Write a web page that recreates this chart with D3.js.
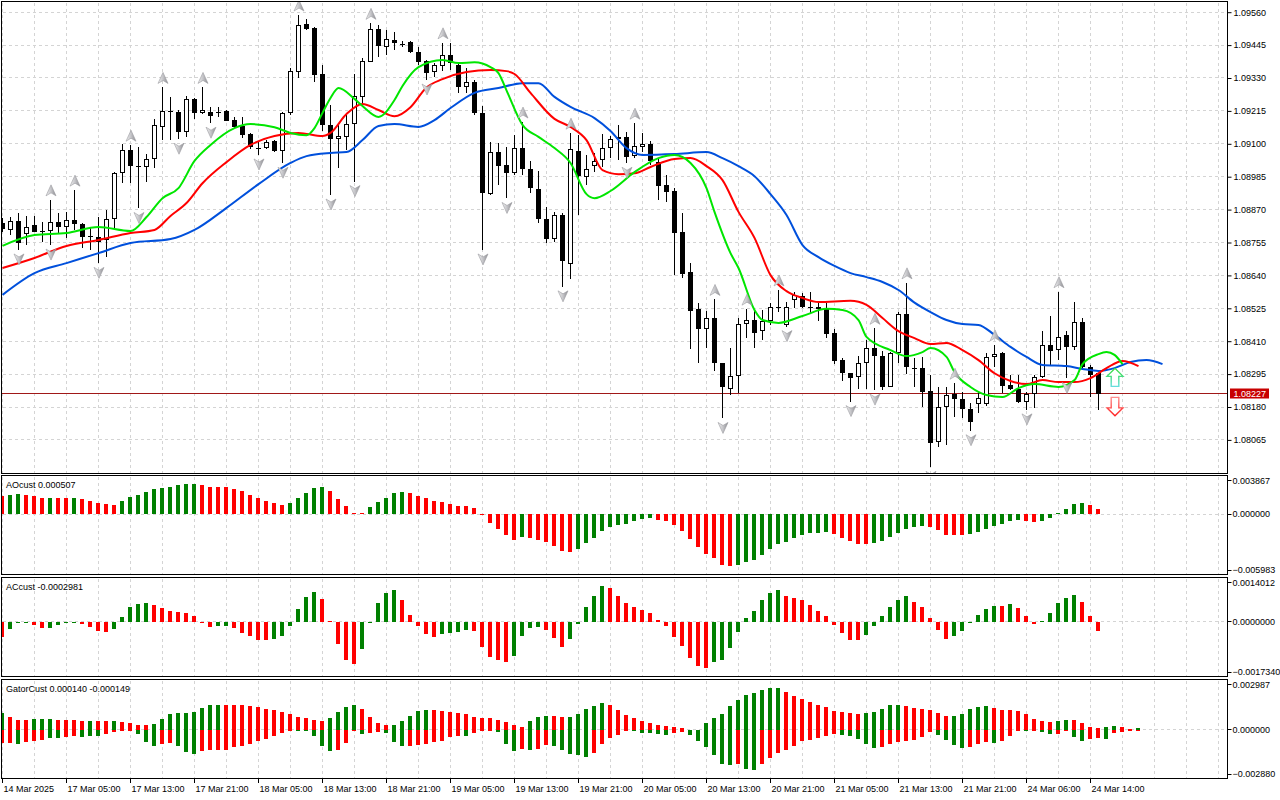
<!DOCTYPE html>
<html>
<head>
<meta charset="utf-8">
<title>EURUSD H1</title>
<script src="https://cdn.jsdelivr.net/npm/d3@7/dist/d3.min.js"></script>
<style>
  html, body { margin:0; padding:0; background:#ffffff; }
  svg { display:block; font-family:"Liberation Sans", Arial, sans-serif; font-size:9px; }
</style>
</head>
<body>
<svg id="chart" width="1280" height="800"></svg>
<script>
// ---------------- DATA ----------------
const timeLabels = ["14 Mar 2025","17 Mar 05:00","17 Mar 13:00","17 Mar 21:00","18 Mar 05:00","18 Mar 13:00","18 Mar 21:00","19 Mar 05:00","19 Mar 13:00","19 Mar 21:00","20 Mar 05:00","20 Mar 13:00","20 Mar 21:00","21 Mar 05:00","21 Mar 13:00","21 Mar 21:00","24 Mar 06:00","24 Mar 14:00"];
const timeLabelIdx = [0,8,16,24,32,40,48,56,64,72,80,88,96,104,112,120,128,136];
const priceTicks = [1.09560,1.09445,1.09330,1.09215,1.09100,1.08985,1.08870,1.08755,1.08640,1.08525,1.08410,1.08295,1.08180,1.08065];
const lastPrice = 1.08227;

const opens = [1.08822,1.08799,1.08830,1.08784,1.08815,1.08795,1.08794,1.08827,1.08810,1.08834,
1.08819,1.08777,1.08775,1.08764,1.08836,1.08997,1.09077,1.09022,1.09018,1.09046,
1.09158,1.09215,1.09212,1.09140,1.09257,1.09207,1.09210,1.09211,1.09215,1.09183,
1.09162,1.09133,1.09086,1.09084,1.09110,1.09076,1.09207,1.09350,1.09519,1.09505,
1.09344,1.09166,1.09116,1.09125,1.09168,1.09265,1.09387,1.09500,1.09437,1.09463,
1.09448,1.09455,1.09422,1.09389,1.09350,1.09373,1.09410,1.09375,1.09300,1.09316,
1.09207,1.08924,1.09070,1.09026,1.08997,1.09084,1.09011,1.08941,1.08836,1.08766,
1.08850,1.08679,1.09075,1.08985,1.09023,1.09043,1.09084,1.09116,1.09125,1.09057,
1.09090,1.09099,1.09037,1.08956,1.08936,1.08791,1.08651,1.08522,1.08454,1.08490,
1.08333,1.08242,1.08289,1.08470,1.08484,1.08445,1.08482,1.08528,1.08465,1.08553,
1.08569,1.08531,1.08528,1.08522,1.08438,1.08344,1.08298,1.08284,1.08335,1.08385,
1.08358,1.08251,1.08368,1.08505,1.08317,1.08315,1.08236,1.08059,1.08179,1.08225,
1.08207,1.08172,1.08190,1.08190,1.08356,1.08368,1.08257,1.08244,1.08199,1.08224,
1.08286,1.08396,1.08379,1.08432,1.08389,1.08477,1.08321,1.08298];
const highs = [1.08841,1.08845,1.08857,1.08848,1.08849,1.08828,1.08904,1.08857,1.08863,1.08938,
1.08822,1.08810,1.08843,1.08869,1.09002,1.09099,1.09095,1.09090,1.09064,1.09188,
1.09297,1.09265,1.09218,1.09267,1.09259,1.09297,1.09228,1.09228,1.09218,1.09195,
1.09195,1.09137,1.09107,1.09113,1.09113,1.09212,1.09364,1.09550,1.09535,1.09509,
1.09375,1.09236,1.09172,1.09201,1.09344,1.09401,1.09521,1.09515,1.09498,1.09491,
1.09460,1.09460,1.09437,1.09393,1.09381,1.09453,1.09451,1.09387,1.09364,1.09323,
1.09232,1.09105,1.09102,1.09090,1.09131,1.09176,1.09041,1.09006,1.08878,1.08863,
1.08857,1.09137,1.09131,1.09061,1.09067,1.09134,1.09127,1.09166,1.09142,1.09172,
1.09139,1.09110,1.09049,1.08991,1.08944,1.08857,1.08682,1.08542,1.08517,1.08556,
1.08335,1.08385,1.08490,1.08522,1.08519,1.08519,1.08542,1.08589,1.08548,1.08583,
1.08579,1.08583,1.08545,1.08542,1.08452,1.08350,1.08298,1.08358,1.08414,1.08455,
1.08377,1.08373,1.08512,1.08614,1.08350,1.08356,1.08292,1.08249,1.08251,1.08263,
1.08233,1.08195,1.08236,1.08370,1.08397,1.08373,1.08292,1.08292,1.08233,1.08292,
1.08447,1.08498,1.08583,1.08447,1.08548,1.08490,1.08327,1.08298];
const lows = [1.08792,1.08781,1.08729,1.08746,1.08791,1.08756,1.08746,1.08787,1.08770,1.08799,
1.08735,1.08729,1.08682,1.08705,1.08799,1.08964,1.08962,1.08874,1.08968,1.09014,
1.09113,1.09113,1.09116,1.09125,1.09187,1.09205,1.09172,1.09193,1.09179,1.09151,
1.09119,1.09082,1.09061,1.09082,1.09072,1.09032,1.09201,1.09329,1.09498,1.09317,
1.09145,1.08921,1.09014,1.09078,1.08968,1.09242,1.09385,1.09404,1.09410,1.09428,
1.09439,1.09416,1.09375,1.09323,1.09335,1.09356,1.09358,1.09279,1.09279,1.09201,
1.08729,1.08921,1.08956,1.08909,1.08991,1.08991,1.08927,1.08822,1.08752,1.08758,
1.08600,1.08626,1.08851,1.08956,1.09002,1.09020,1.09049,1.09043,1.09032,1.09049,
1.09072,1.09026,1.08904,1.08898,1.08641,1.08630,1.08382,1.08333,1.08385,1.08307,
1.08140,1.08222,1.08228,1.08420,1.08385,1.08414,1.08467,1.08513,1.08461,1.08525,
1.08525,1.08507,1.08482,1.08420,1.08330,1.08272,1.08199,1.08242,1.08242,1.08239,
1.08239,1.08249,1.08333,1.08295,1.08249,1.08181,1.07969,1.08041,1.08047,1.08146,
1.08140,1.08097,1.08158,1.08185,1.08321,1.08228,1.08239,1.08193,1.08170,1.08175,
1.08280,1.08327,1.08344,1.08280,1.08379,1.08309,1.08214,1.08170];
const closes = [1.08801,1.08830,1.08752,1.08810,1.08793,1.08796,1.08826,1.08810,1.08834,1.08819,
1.08773,1.08778,1.08758,1.08836,1.08997,1.09077,1.09022,1.09018,1.09046,1.09165,
1.09215,1.09212,1.09140,1.09256,1.09207,1.09218,1.09198,1.09210,1.09181,1.09160,
1.09131,1.09090,1.09085,1.09107,1.09076,1.09207,1.09354,1.09515,1.09502,1.09341,
1.09166,1.09116,1.09127,1.09168,1.09267,1.09389,1.09500,1.09443,1.09465,1.09451,
1.09447,1.09420,1.09387,1.09346,1.09375,1.09410,1.09381,1.09300,1.09316,1.09207,
1.08927,1.09070,1.09023,1.08997,1.09084,1.09011,1.08944,1.08836,1.08766,1.08850,
1.08691,1.09081,1.08988,1.09011,1.09039,1.09084,1.09116,1.09125,1.09055,1.09092,
1.09098,1.09040,1.08953,1.08933,1.08789,1.08645,1.08517,1.08454,1.08490,1.08335,
1.08249,1.08289,1.08469,1.08483,1.08440,1.08480,1.08528,1.08529,1.08528,1.08572,
1.08531,1.08530,1.08522,1.08436,1.08342,1.08298,1.08280,1.08335,1.08385,1.08358,
1.08251,1.08368,1.08505,1.08319,1.08316,1.08233,1.08055,1.08179,1.08222,1.08207,
1.08172,1.08129,1.08210,1.08356,1.08365,1.08253,1.08244,1.08199,1.08224,1.08286,
1.08396,1.08377,1.08426,1.08389,1.08477,1.08321,1.08292,1.08227];

// Alligator lines (bar index incl. forward shift, value)
const jawIdx = [0,4,8,12,16,21,24,28,32,36,38,41,43,45,47,49,52,54,56,59,62,65,67,69,71,74,76,78,80,84,88,90,92,94,96,98,100,102,104,106,108,110,112,114,116,118,120,122,124,126,128,130,133,135,137,139,141,143,145];
const jawVal = [1.08572,1.08648,1.08683,1.08718,1.08753,1.08767,1.08799,1.08876,1.08959,1.09033,1.09057,1.09068,1.09071,1.09113,1.09162,1.09169,1.09159,1.09183,1.09225,1.09278,1.09295,1.09312,1.09312,1.09264,1.09229,1.09190,1.09145,1.09085,1.09061,1.09064,1.09071,1.09050,1.09022,1.08987,1.08924,1.08851,1.08746,1.08704,1.08673,1.08648,1.08634,1.08617,1.08589,1.08545,1.08512,1.08484,1.08470,1.08467,1.08432,1.08390,1.08355,1.08327,1.08323,1.08313,1.08306,1.08316,1.08337,1.08344,1.08330];
const teethIdx = [0,4,8,12,16,19,21,23,25,28,31,34,37,40,41,43,45,47,49,51,53,55,58,61,63,64,66,69,71,73,75,77,79,81,84,86,88,90,92,94,96,98,100,102,106,108,110,112,114,116,118,120,122,124,126,128,130,132,134,136,138,140,142];
const teethVal = [1.08666,1.08701,1.08743,1.08764,1.08788,1.08799,1.08848,1.08893,1.08962,1.09036,1.09096,1.09127,1.09138,1.09127,1.09138,1.09204,1.09239,1.09218,1.09196,1.09228,1.09297,1.09326,1.09351,1.09358,1.09354,1.09344,1.09278,1.09187,1.09159,1.09113,1.09008,1.08994,1.08997,1.09019,1.09047,1.09050,1.09022,1.08973,1.08862,1.08771,1.08641,1.08585,1.08561,1.08547,1.08551,1.08537,1.08491,1.08445,1.08421,1.08400,1.08404,1.08379,1.08344,1.08298,1.08271,1.08260,1.08274,1.08267,1.08267,1.08281,1.08316,1.08341,1.08323];
const lipsIdx = [0,4,8,12,16,18,20,22,24,26,29,31,34,36,38,39,40,41,42,44,45,47,49,50,52,55,57,59,61,62,63,65,67,69,71,73,74,76,79,82,84,86,88,89,91,92,94,95,97,100,103,105,107,108,111,113,115,116,118,119,121,123,125,127,129,132,134,135,137,138,139,140];
const lipsVal = [1.08743,1.08781,1.08788,1.08809,1.08795,1.08844,1.08910,1.08945,1.09040,1.09096,1.09155,1.09169,1.09158,1.09138,1.09130,1.09155,1.09208,1.09260,1.09295,1.09257,1.09232,1.09194,1.09253,1.09302,1.09368,1.09393,1.09382,1.09385,1.09368,1.09347,1.09287,1.09166,1.09124,1.09085,1.09033,1.08924,1.08910,1.08935,1.09001,1.09050,1.09061,1.09033,1.08945,1.08862,1.08718,1.08666,1.08519,1.08484,1.08474,1.08498,1.08523,1.08519,1.08484,1.08425,1.08379,1.08358,1.08372,1.08386,1.08355,1.08302,1.08250,1.08222,1.08215,1.08246,1.08260,1.08250,1.08274,1.08330,1.08365,1.08372,1.08362,1.08330];

// Fractals (bar indices)
const fractalUp = [6,9,16,20,25,37,46,55,65,71,79,89,93,97,109,113,119,124,132];
const fractalDown = [2,6,12,17,22,26,32,35,41,44,53,60,63,70,78,90,98,106,109,116,121,128,133];

// Signal arrows
const signalIdx = 139;
const signalBuyPrice = 1.08315;
const signalSellPrice = 1.08149;

// Awesome Oscillator
const aoValues = [0.00183,0.00196,0.00203,0.00193,0.00186,0.00166,0.00167,0.00165,0.00162,0.00163,
0.00155,0.00135,0.00115,0.00101,0.00091,0.00135,0.00176,0.00196,0.00223,0.00254,
0.00264,0.00277,0.00294,0.00304,0.00305,0.00294,0.00274,0.00273,0.00272,0.00254,
0.00233,0.00196,0.00162,0.00135,0.00112,0.00091,0.00112,0.00162,0.00213,0.00264,
0.00277,0.00237,0.00152,0.00081,0.00010,0.00009,0.00071,0.00122,0.00162,0.00213,
0.00223,0.00213,0.00183,0.00162,0.00132,0.00122,0.00101,0.00081,0.00080,0.00061,
-0.00014,-0.00088,-0.00152,-0.00210,-0.00260,-0.00230,-0.00240,-0.00260,-0.00281,-0.00321,
-0.00372,-0.00382,-0.00352,-0.00291,-0.00240,-0.00169,-0.00128,-0.00108,-0.00098,-0.00068,
-0.00047,-0.00037,-0.00057,-0.00068,-0.00108,-0.00169,-0.00250,-0.00331,-0.00402,-0.00443,
-0.00514,-0.00524,-0.00513,-0.00483,-0.00463,-0.00412,-0.00352,-0.00301,-0.00281,-0.00240,
-0.00210,-0.00189,-0.00188,-0.00187,-0.00200,-0.00240,-0.00270,-0.00301,-0.00302,-0.00291,
-0.00270,-0.00230,-0.00190,-0.00149,-0.00128,-0.00118,-0.00128,-0.00159,-0.00210,-0.00211,
-0.00212,-0.00200,-0.00179,-0.00149,-0.00118,-0.00098,-0.00068,-0.00057,-0.00068,-0.00078,
-0.00068,-0.00037,0.00007,0.00051,0.00101,0.00112,0.00091,0.00051];
const aoColors = ("rggrrrgrrg"+"rrrrrggggg"+"gggggrrrrr"+"rrrrrrgggg"+"grrrrrgggg"+"grrrrrrrrr"+"rrrrrgrrrr"+"rrgggggggg"+"ggrrrrrrrr"+"rrgggggggg"+"ggggrrrrrg"+"ggggggrrrr"+"rgggggggrr"+"ggggggrr").split("");

// Accelerator Oscillator
const acValues = [-0.00048,-0.00022,-0.00003,-0.00003,-0.00010,-0.00019,-0.00019,-0.00010,-0.00003,-0.00002,
-0.00006,-0.00016,-0.00029,-0.00032,-0.00022,0.00016,0.00048,0.00058,0.00061,0.00054,
0.00045,0.00035,0.00032,0.00029,0.00019,-0.00001,-0.00016,-0.00013,-0.00012,-0.00019,
-0.00035,-0.00045,-0.00058,-0.00059,-0.00054,-0.00045,-0.00013,0.00042,0.00080,0.00096,
0.00074,0.00003,-0.00070,-0.00122,-0.00134,-0.00086,-0.00002,0.00061,0.00093,0.00102,
0.00070,0.00022,-0.00013,-0.00038,-0.00048,-0.00038,-0.00035,-0.00034,-0.00026,-0.00029,
-0.00080,-0.00112,-0.00122,-0.00128,-0.00109,-0.00045,-0.00019,-0.00016,-0.00026,-0.00051,
-0.00080,-0.00054,-0.00006,0.00048,0.00083,0.00115,0.00109,0.00083,0.00061,0.00048,
0.00038,0.00029,0.00006,-0.00013,-0.00048,-0.00077,-0.00115,-0.00141,-0.00147,-0.00128,
-0.00122,-0.00083,-0.00032,0.00013,0.00035,0.00070,0.00093,0.00102,0.00083,0.00077,
0.00070,0.00054,0.00035,0.00019,-0.00010,-0.00035,-0.00058,-0.00059,-0.00042,-0.00013,
0.00019,0.00048,0.00070,0.00083,0.00064,0.00048,0.00013,-0.00026,-0.00054,-0.00045,
-0.00029,-0.00002,0.00022,0.00042,0.00051,0.00050,0.00058,0.00045,0.00019,-0.00006,
0.00003,0.00029,0.00061,0.00077,0.00086,0.00064,0.00019,-0.0002981];
const acColors = ("rgggrrgggg"+"rrrrgggggr"+"rrrrrrrggr"+"rrrrgggggg"+"rrrrrggggg"+"rrrrrggggr"+"rrrrggggrr"+"rgggggrrrr"+"rrrrrrrrrg"+"ggggggggrr"+"rrrrrrrrgg"+"ggggrrrrrg"+"gggggrgrrr"+"gggggrrr").split("");

// Gator Oscillator
const gatorUp = [0.00104,0.00076,0.00060,0.00060,0.00066,0.00066,0.00066,0.00060,0.00060,0.00060,
0.00054,0.00054,0.00054,0.00054,0.00054,0.00048,0.00042,0.00030,0.00030,0.00036,
0.00066,0.00096,0.00102,0.00102,0.00108,0.00132,0.00150,0.00150,0.00150,0.00150,
0.00150,0.00144,0.00138,0.00126,0.00120,0.00108,0.00096,0.00078,0.00072,0.00060,
0.00054,0.00072,0.00108,0.00138,0.00150,0.00126,0.00078,0.00042,0.00030,0.00030,
0.00054,0.00084,0.00114,0.00120,0.00120,0.00114,0.00108,0.00102,0.00096,0.00078,
0.00072,0.00072,0.00060,0.00048,0.00030,0.00018,0.00054,0.00078,0.00084,0.00084,
0.00078,0.00078,0.00096,0.00126,0.00144,0.00162,0.00150,0.00120,0.00090,0.00072,
0.00054,0.00042,0.00030,0.00024,0.00018,0.00012,0.00002,0.00001,0.00042,0.00072,
0.00096,0.00144,0.00180,0.00210,0.00222,0.00240,0.00252,0.00252,0.00228,0.00204,
0.00186,0.00168,0.00150,0.00138,0.00114,0.00108,0.00102,0.00096,0.00102,0.00108,
0.00126,0.00150,0.00150,0.00144,0.00132,0.00126,0.00120,0.00102,0.00084,0.00084,
0.00096,0.00126,0.00138,0.00144,0.00132,0.00120,0.00120,0.00114,0.00096,0.00066,
0.00054,0.00048,0.00054,0.00060,0.00060,0.00042,0.00018,0.00012,0.00018,0.00024,
0.00018,0.00006,0.00014];
const gatorDown = [-0.00076,-0.00076,-0.00082,-0.00070,-0.00064,-0.00058,-0.00046,-0.00046,-0.00040,-0.00034,
-0.00040,-0.00034,-0.00034,-0.00022,-0.00010,-0.00004,-0.00004,-0.00022,-0.00070,-0.00094,
-0.00082,-0.00076,-0.00094,-0.00130,-0.00142,-0.00124,-0.00118,-0.00118,-0.00118,-0.00100,
-0.00094,-0.00082,-0.00064,-0.00052,-0.00034,-0.00016,-0.00004,-0.00004,-0.00004,-0.00034,
-0.00094,-0.00124,-0.00118,-0.00076,-0.00004,-0.00022,-0.00016,-0.00010,-0.00016,-0.00070,
-0.00094,-0.00094,-0.00088,-0.00082,-0.00070,-0.00064,-0.00040,-0.00034,-0.00034,-0.00016,
-0.00004,-0.00004,-0.00010,-0.00082,-0.00124,-0.00112,-0.00118,-0.00112,-0.00088,-0.00094,
-0.00118,-0.00142,-0.00148,-0.00160,-0.00136,-0.00082,-0.00046,-0.00028,-0.00004,-0.00002,
-0.00016,-0.00016,-0.00022,-0.00028,-0.00016,-0.00010,-0.00028,-0.00064,-0.00100,-0.00148,
-0.00202,-0.00208,-0.00202,-0.00232,-0.00238,-0.00202,-0.00166,-0.00136,-0.00118,-0.00094,
-0.00064,-0.00058,-0.00046,-0.00034,-0.00022,-0.00028,-0.00034,-0.00052,-0.00082,-0.00106,
-0.00100,-0.00082,-0.00070,-0.00064,-0.00058,-0.00040,-0.00010,-0.00028,-0.00058,-0.00088,
-0.00106,-0.00100,-0.00082,-0.00070,-0.00076,-0.00064,-0.00034,-0.00004,-0.00004,-0.00004,
-0.00010,-0.00022,-0.00022,-0.00004,-0.00040,-0.00064,-0.00052,-0.00046,-0.00052,-0.00016,
-0.00010,-0.00003,-0.00003];
const gatorUpColors = ("grrrgggrrr"+"rgrrgrrrrg"+"ggggggggrr"+"rrrrrrrrrr"+"rggggrrrrg"+"ggggrrrrrr"+"rrrrrrgggr"+"rgggggrrrr"+"rrrrrrrrgg"+"ggggggggrr"+"rrrrrrrrgg"+"gggrrrrrrg"+"ggggrrrrrr"+"rrggrrrrgg"+"rrg").split("");
const gatorDownColors = ("rrgrrrggrr"+"gggrrrrggg"+"rrgggrrrrr"+"rrrrrrrggg"+"ggrrrgrrgg"+"grrrrrrrgr"+"rrgggrgrrg"+"ggggrrrrrg"+"ggggrrgggg"+"ggrggrrrrr"+"rrrrrggggg"+"rrrrrrrggg"+"grrrgrrrgr"+"ggrrggrrgr"+"rrr").split("");

const aoLabel = "AOcust 0.000507";
const acLabel = "ACcust -0.0002981";
const gatorLabel = "GatorCust 0.000140 -0.000149";
const aoAxis = [0.003867, 0, -0.005983];
const acAxis = [0.0014012, 0, -0.0017340];
const gatorAxis = [0.002987, 0, -0.002880];

// ---------------- DRAWING ----------------
const svg = d3.select("#chart");
const plotL = 1.5, plotR = 1227.5;
const COL = {green:"#008000", red:"#ff0000", grid:"#d4d4d4", jaw:"#0050dc", teeth:"#ff0000", lips:"#00e600"};
const panels = {
  main:  {top:1.5,   bottom:473.5},
  ao:    {top:475.5, bottom:574.5},
  ac:    {top:577.5, bottom:676.5},
  gator: {top:679.5, bottom:778.5}
};

const x = d3.scaleLinear().domain([0, 1]).range([2.5, 10.5]);
const y = d3.scaleLinear().domain([1.08180, 1.09560]).range([407, 12.2]);
const aoY = d3.scaleLinear().domain([-0.005983, 0.003867]).range([573, 476]);
const acY = d3.scaleLinear().domain([-0.0017340, 0.0014012]).range([676, 578]);
const gY  = d3.scaleLinear().domain([-0.002880, 0.002987]).range([778, 680]);

svg.append("rect").attr("width",1280).attr("height",800).attr("fill","#fff");

const defs = svg.append("defs");
Object.entries(panels).forEach(([k,p]) => {
  defs.append("clipPath").attr("id","clip-"+k).append("rect")
    .attr("x", plotL+0.5).attr("y", p.top+0.5).attr("width", plotR-plotL-1).attr("height", p.bottom-p.top-1);
});
const gL = defs.append("linearGradient").attr("id","fracGrad").attr("x1","0").attr("x2","1").attr("y1","0").attr("y2","0");
gL.append("stop").attr("offset","0").attr("stop-color","#f2f2f2");
gL.append("stop").attr("offset","0.5").attr("stop-color","#c4c4c8");
gL.append("stop").attr("offset","1").attr("stop-color","#8e8e92");
const gB = defs.append("linearGradient").attr("id","buyStroke").attr("x1","0").attr("x2","0").attr("y1","0").attr("y2","1");
gB.append("stop").attr("offset","0").attr("stop-color","#33dd33");
gB.append("stop").attr("offset","1").attr("stop-color","#66dddd");
const gS = defs.append("linearGradient").attr("id","sellStroke").attr("x1","0").attr("x2","0").attr("y1","0").attr("y2","1");
gS.append("stop").attr("offset","0").attr("stop-color","#ff9090");
gS.append("stop").attr("offset","1").attr("stop-color","#ff2020");

const crisp = v => Math.round(v - 0.5) + 0.5;
const gridIdx = d3.range(0, 160, 4).filter(i => x(i) < plotR - 1);

// Grids
Object.entries(panels).forEach(([k,p]) => {
  const g = svg.append("g").attr("stroke", COL.grid).attr("stroke-dasharray","3,3").attr("shape-rendering","crispEdges");
  g.selectAll("line").data(gridIdx).join("line")
    .attr("x1", d => x(d)).attr("x2", d => x(d))
    .attr("y1", p.top + 1).attr("y2", p.bottom - 1);
});
svg.append("g").attr("stroke", COL.grid).attr("stroke-dasharray","3,3").attr("shape-rendering","crispEdges")
  .selectAll("line").data(priceTicks).join("line")
  .attr("x1", plotL+1).attr("x2", plotR-1)
  .attr("y1", d => crisp(y(d))).attr("y2", d => crisp(y(d)));
[aoY, acY, gY].forEach(sc => {
  svg.append("line").attr("stroke", COL.grid).attr("stroke-dasharray","3,3").attr("shape-rendering","crispEdges")
    .attr("x1", plotL+1).attr("x2", plotR-1).attr("y1", crisp(sc(0))).attr("y2", crisp(sc(0)));
});

// Current price line
svg.append("line").attr("x1", plotL).attr("x2", plotR).attr("y1", crisp(y(lastPrice))).attr("y2", crisp(y(lastPrice)))
  .attr("stroke","#a01818").attr("stroke-width",1).attr("shape-rendering","crispEdges");

// Candles
const candles = d3.range(opens.length).map(i => ({i, o:opens[i], h:highs[i], l:lows[i], c:closes[i]}));
const cg = svg.append("g").attr("clip-path","url(#clip-main)").attr("shape-rendering","crispEdges");
cg.selectAll("rect.wick").data(candles).join("rect").attr("class","wick")
  .attr("x", d => x(d.i) - 0.5).attr("width", 1)
  .attr("y", d => Math.round(y(d.h)))
  .attr("height", d => Math.max(1, Math.round(y(d.l)) - Math.round(y(d.h))))
  .attr("fill", "#000");
cg.selectAll("rect.body").data(candles).join("rect").attr("class","body")
  .each(function(d) {
    const top = Math.round(y(Math.max(d.o, d.c)));
    const bot = Math.round(y(Math.min(d.o, d.c)));
    const sel = d3.select(this);
    if (bot - top <= 1) {
      sel.attr("x", x(d.i) - 2.5).attr("width", 5).attr("y", top).attr("height", 1).attr("fill", "#000");
    } else if (d.c > d.o) {
      sel.attr("x", x(d.i) - 2).attr("width", 4).attr("y", top + 0.5).attr("height", bot - top - 1)
        .attr("fill", "#fff").attr("stroke", "#000").attr("stroke-width", 1);
    } else {
      sel.attr("x", x(d.i) - 2.5).attr("width", 5).attr("y", top).attr("height", bot - top).attr("fill", "#000");
    }
  });

// Alligator lines
const lineGen = d3.line().x(d => x(d[0])).y(d => y(d[1])).curve(d3.curveMonotoneX);
const lg = svg.append("g").attr("clip-path","url(#clip-main)").attr("fill","none").attr("stroke-width",2).attr("stroke-linejoin","round");
lg.append("path").attr("d", lineGen(d3.zip(jawIdx, jawVal))).attr("stroke", COL.jaw);
lg.append("path").attr("d", lineGen(d3.zip(teethIdx, teethVal))).attr("stroke", COL.teeth);
lg.append("path").attr("d", lineGen(d3.zip(lipsIdx, lipsVal))).attr("stroke", COL.lips);

// Fractal arrows
const fg = svg.append("g").attr("clip-path","url(#clip-main)");
fg.selectAll("path.fu").data(fractalUp).join("path").attr("class","fu")
  .attr("transform", i => `translate(${x(i)+0.5},${y(highs[i]) - 9})`)
  .attr("d","M0,-6 L5,5 L0,2 L-5,5 Z").attr("fill","url(#fracGrad)").attr("stroke","#9a9aa0").attr("stroke-width",0.6);
fg.selectAll("path.fd").data(fractalDown).join("path").attr("class","fd")
  .attr("transform", i => `translate(${x(i)+0.5},${y(lows[i]) + 9})`)
  .attr("d","M0,6 L5,-5 L0,-2 L-5,-5 Z").attr("fill","url(#fracGrad)").attr("stroke","#9a9aa0").attr("stroke-width",0.6);

// Signal arrows
const bx = x(signalIdx) + 0.5;
svg.append("path").attr("transform", `translate(${bx},${y(signalBuyPrice)})`)
  .attr("d","M0,0 L8,8 L3.8,8 L3.8,18 L-3.8,18 L-3.8,8 L-8,8 Z")
  .attr("fill","#fff").attr("stroke","url(#buyStroke)").attr("stroke-width",1.4);
svg.append("path").attr("transform", `translate(${bx},${y(signalSellPrice)})`)
  .attr("d","M0,0 L8,-8 L3.8,-8 L3.8,-18.5 L-3.8,-18.5 L-3.8,-8 L-8,-8 Z")
  .attr("fill","#fff").attr("stroke","url(#sellStroke)").attr("stroke-width",1.4);

// Histograms
function hist(values, colors, sc, clip) {
  const g = svg.append("g").attr("clip-path", `url(#clip-${clip})`).attr("shape-rendering","crispEdges");
  const z = sc(0);
  g.selectAll("rect").data(values.map((v,i)=>({v,i}))).join("rect")
    .attr("x", d => x(d.i) - 2.5).attr("width", 4)
    .attr("y", d => Math.min(sc(d.v), z))
    .attr("height", d => Math.max(1, Math.abs(sc(d.v) - z)))
    .attr("fill", d => colors[d.i] === "g" ? COL.green : COL.red);
}
hist(aoValues, aoColors, aoY, "ao");
hist(acValues, acColors, acY, "ac");
hist(gatorUp, gatorUpColors, gY, "gator");
hist(gatorDown, gatorDownColors, gY, "gator");

// Panel borders
Object.values(panels).forEach(p => {
  svg.append("rect").attr("x", plotL).attr("y", p.top).attr("width", plotR - plotL).attr("height", p.bottom - p.top)
    .attr("fill","none").attr("stroke","#000").attr("stroke-width",1).attr("shape-rendering","crispEdges");
});

// Price axis
const yAxis = d3.axisRight(y).tickValues(priceTicks).tickSize(4).tickPadding(2).tickFormat(d3.format(".5f"));
const ya = svg.append("g").attr("transform", `translate(${plotR},0)`).call(yAxis);
ya.select(".domain").remove();
ya.selectAll("text").attr("font-family","Liberation Sans, Arial, sans-serif").attr("font-size",9).attr("fill","#000");
ya.selectAll("line").attr("stroke","#000");

// Current price label
const ly = crisp(y(lastPrice));
svg.append("rect").attr("x", plotR + 2.5).attr("y", ly - 5).attr("width", 39).attr("height", 10).attr("fill","#c80000");
svg.append("text").attr("x", plotR + 6).attr("y", ly + 3.3).attr("fill","#fff").attr("font-size",9).text(d3.format(".5f")(lastPrice));

// Sub-panel axes
function subAxis(sc, vals, fmt, p) {
  const g = svg.append("g");
  vals.forEach(v => {
    let yy = sc(v);
    yy = Math.max(p.top + 5, Math.min(p.bottom - 4.5, yy));
    g.append("line").attr("x1", plotR).attr("x2", plotR + 4).attr("y1", crisp(yy)).attr("y2", crisp(yy)).attr("stroke","#000");
    g.append("text").attr("x", plotR + 5).attr("y", yy + 3.3).attr("fill","#000").text(fmt(v));
  });
}
subAxis(aoY, aoAxis, d3.format(".6f"), panels.ao);
subAxis(acY, acAxis, d3.format(".7f"), panels.ac);
subAxis(gY, gatorAxis, d3.format(".6f"), panels.gator);

// Panel titles
svg.append("text").attr("x", 6).attr("y", 488).attr("fill","#000").text(aoLabel);
svg.append("text").attr("x", 6).attr("y", 590).attr("fill","#000").text(acLabel);
svg.append("text").attr("x", 6).attr("y", 692).attr("fill","#000").text(gatorLabel);

// Time axis
const tg = svg.append("g");
timeLabelIdx.forEach((idx, k) => {
  tg.append("line").attr("x1", x(idx)).attr("x2", x(idx)).attr("y1", panels.gator.bottom).attr("y2", panels.gator.bottom + 4)
    .attr("stroke","#000").attr("shape-rendering","crispEdges");
  tg.append("text").attr("x", x(idx) + 1).attr("y", 791.5).attr("fill","#000").text(timeLabels[k]);
});
</script>
</body>
</html>
